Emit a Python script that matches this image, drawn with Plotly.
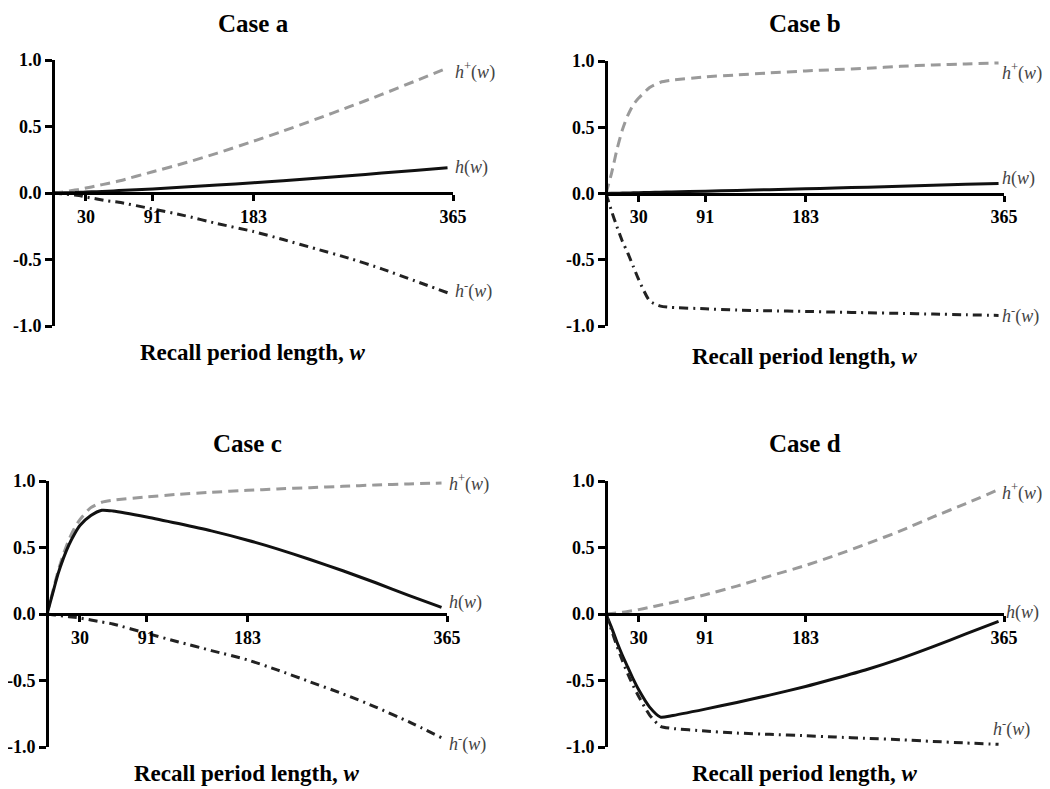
import plotly.graph_objects as go

# ---------------- data ----------------
w = [0, 5, 10, 15, 20, 25, 30, 40, 50, 60, 91, 120, 150, 183, 210, 240, 270, 300, 330, 360]

a_hplus = [0, 0.004, 0.009, 0.015, 0.022, 0.029, 0.037, 0.054, 0.072, 0.09, 0.16, 0.225, 0.30, 0.39, 0.466, 0.555, 0.647, 0.741, 0.84, 0.94]
a_h = [0, 0, 0.001, 0.002, 0.003, 0.005, 0.007, 0.01, 0.013, 0.018, 0.03, 0.045, 0.06, 0.077, 0.092, 0.11, 0.13, 0.15, 0.17, 0.19]
a_hminus = [0, -0.004, -0.008, -0.012, -0.016, -0.02, -0.03, -0.045, -0.06, -0.07, -0.12, -0.17, -0.23, -0.29, -0.35, -0.42, -0.49, -0.57, -0.66, -0.75]

b_hplus = [0, 0.15, 0.33, 0.48, 0.59, 0.67, 0.72, 0.80, 0.84, 0.855, 0.88, 0.895, 0.91, 0.925, 0.935, 0.945, 0.96, 0.97, 0.978, 0.985]
b_h = [0, 0.001, 0.002, 0.003, 0.004, 0.005, 0.006, 0.008, 0.01, 0.012, 0.017, 0.023, 0.029, 0.036, 0.041, 0.048, 0.055, 0.062, 0.069, 0.075]
b_hminus = [0, -0.13, -0.25, -0.36, -0.45, -0.55, -0.65, -0.81, -0.85, -0.86, -0.87, -0.88, -0.885, -0.89, -0.895, -0.90, -0.905, -0.91, -0.915, -0.92]

c_hplus = [0, 0.16, 0.32, 0.45, 0.56, 0.645, 0.71, 0.80, 0.84, 0.855, 0.88, 0.90, 0.915, 0.93, 0.94, 0.95, 0.96, 0.97, 0.978, 0.985]
c_h = [0, 0.15, 0.30, 0.42, 0.52, 0.60, 0.665, 0.74, 0.78, 0.775, 0.73, 0.68, 0.625, 0.555, 0.49, 0.41, 0.325, 0.235, 0.14, 0.05]
c_hminus = [0, -0.005, -0.01, -0.015, -0.02, -0.025, -0.03, -0.045, -0.06, -0.075, -0.145, -0.21, -0.275, -0.345, -0.42, -0.51, -0.60, -0.70, -0.81, -0.93]

d_hplus = [0, 0.004, 0.008, 0.013, 0.019, 0.026, 0.033, 0.05, 0.067, 0.085, 0.145, 0.21, 0.285, 0.365, 0.44, 0.53, 0.625, 0.73, 0.83, 0.935]
d_h = [0, -0.1, -0.21, -0.31, -0.40, -0.49, -0.57, -0.70, -0.775, -0.765, -0.715, -0.665, -0.61, -0.545, -0.485, -0.415, -0.335, -0.245, -0.15, -0.055]
d_hminus = [0, -0.12, -0.24, -0.35, -0.45, -0.54, -0.62, -0.76, -0.845, -0.86, -0.88, -0.895, -0.905, -0.915, -0.925, -0.935, -0.945, -0.958, -0.97, -0.98]

panel_titles = ["Case a", "Case b", "Case c", "Case d"]
x_tick_vals = [30, 91, 183, 365]
y_tick_vals = [-1.0, -0.5, 0.0, 0.5, 1.0]
y_tick_text = ["-1.0", "-0.5", "0.0", "0.5", "1.0"]
x_title = "Recall period length, <i>w</i>"

# ---------------- layout config ----------------
W, H = 1050, 789
OFF = 8  # page body margin offset
FONT = "Liberation Serif"

def px_x(p):
    return (p - OFF) / W

def px_y(p):
    return 1 - (p - OFF) / H

# pixel boxes in the viewport: (x_left, x_right, y_top, y_bottom)
boxes = [(53, 453, 60, 326), (606, 1004, 61, 326), (47, 447, 481, 747), (606, 1004, 481, 747)]
title_y = [8, 8, 428, 428]   # top of title box
xtitle_y = [352, 356, 773, 773]

series = [
    (a_hplus, a_h, a_hminus),
    (b_hplus, b_h, b_hminus),
    (c_hplus, c_h, c_hminus),
    (d_hplus, d_h, d_hminus),
]

# label placement (data x, data y) for h+, h, h- per panel
label_pos = [
    [(360, 0.92), (360, 0.19), (360, -0.73)],
    [(360, 0.92), (360, 0.11), (360, -0.92)],
    [(360, 0.985), (360, 0.09), (360, -0.97)],
    [(360, 0.92), (364, 0.015), (352, -0.86)],
]
label_shift = [5, 1, 5, 1]
label_text = ["<i>h</i><sup>+</sup>(<i>w</i>)", "<i>h</i>(<i>w</i>)", "<i>h</i><sup>-</sup>(<i>w</i>)"]

styles = [
    dict(color="#9a9a9a", width=3, dash="10px,6px", shape="spline", smoothing=0.6),
    dict(color="#111111", width=3, dash="solid", shape="spline", smoothing=0.6),
    dict(color="#222222", width=3, dash="9px,5px,2px,5px", shape="spline", smoothing=0.6),
]

fig = go.Figure()
annotations = []
layout_axes = {}

for i in range(4):
    k = "" if i == 0 else str(i + 1)
    xl, xr, yt, yb = boxes[i]
    xdom = [px_x(xl), px_x(xr)]
    ydom = [px_y(yb), px_y(yt)]
    for s, st in zip(series[i], styles):
        fig.add_trace(go.Scatter(x=w, y=s, mode="lines", line=st, showlegend=False,
                                 xaxis="x" + k, yaxis="y" + k, hoverinfo="skip"))
    layout_axes["xaxis" + k] = dict(
        domain=xdom, range=[0, 365], anchor="free", position=(ydom[0] + ydom[1]) / 2,
        tickvals=x_tick_vals, ticktext=["<b>%d</b>" % v for v in x_tick_vals],
        ticks="outside", ticklen=6, tickwidth=3, tickcolor="black",
        showline=True, linewidth=3, linecolor="black", showgrid=False, zeroline=False,
        tickfont=dict(family=FONT, size=18, color="black"), fixedrange=True,
        automargin=False,
    )
    layout_axes["yaxis" + k] = dict(
        domain=ydom, range=[-1, 1], anchor="free", position=xdom[0],
        tickvals=y_tick_vals, ticktext=["<b>%s</b>" % t for t in y_tick_text],
        ticks="outside", ticklen=7, tickwidth=3, tickcolor="black",
        showline=True, linewidth=3, linecolor="black", showgrid=False, zeroline=False,
        tickfont=dict(family=FONT, size=18, color="black"), fixedrange=True,
        automargin=False,
    )
    cx = (xdom[0] + xdom[1]) / 2
    annotations.append(dict(text="<b>%s</b>" % panel_titles[i], x=cx, y=px_y(title_y[i]),
                            xref="paper", yref="paper", showarrow=False,
                            font=dict(family=FONT, size=25, color="black"),
                            xanchor="center", yanchor="top"))
    annotations.append(dict(text="<b>%s</b>" % x_title, x=cx, y=px_y(xtitle_y[i]),
                            xref="paper", yref="paper", showarrow=False,
                            font=dict(family=FONT, size=23, color="black"),
                            xanchor="center", yanchor="middle"))
    for (lx, ly), txt in zip(label_pos[i], label_text):
        annotations.append(dict(text=txt, x=lx, y=ly, xref="x" + k, yref="y" + k,
                                showarrow=False, xanchor="left", yanchor="middle",
                                xshift=label_shift[i],
                                font=dict(family=FONT, size=18, color="#444444")))

fig.update_layout(
    width=W, height=H, margin=dict(l=0, r=0, t=0, b=0, autoexpand=False),
    paper_bgcolor="white", plot_bgcolor="white",
    annotations=annotations, showlegend=False,
    **layout_axes,
)

fig.write_html("out.html")
